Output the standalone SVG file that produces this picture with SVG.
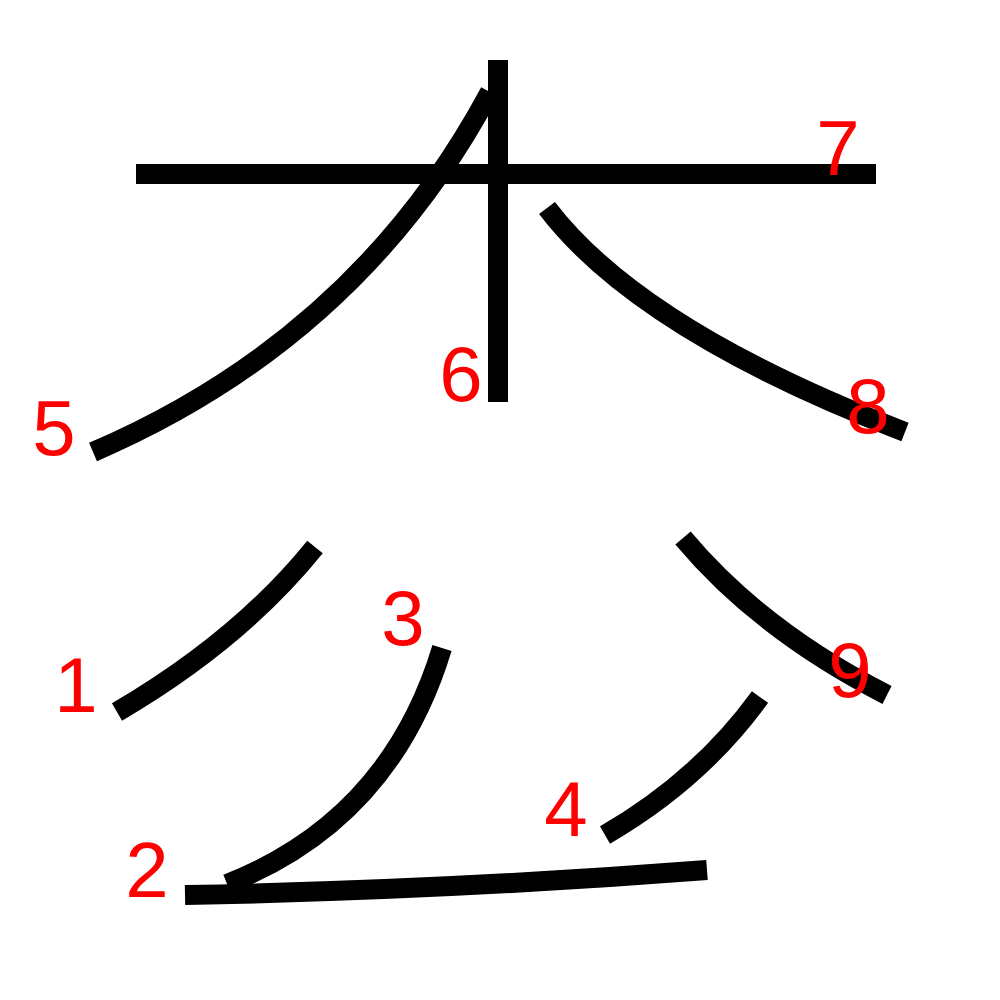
<svg xmlns="http://www.w3.org/2000/svg" width="1000" height="1000" viewBox="0 0 1000 1000">
<style>
.s{fill:none;stroke:#000;stroke-width:20;stroke-linecap:butt}
.n{fill:#f00;font-family:"Liberation Sans",Arial,sans-serif;font-size:78px;text-anchor:middle}
</style>
<rect width="1000" height="1000" fill="#fff"/>
<g id="strokes">
<path id="s1" class="s" d="M315,547 Q240,640 117,712"/>
<path id="s2" class="s" d="M185,895 Q450,890 707,870"/>
<path id="s3" class="s" d="M442,648 Q390,820 227,884"/>
<path id="s4" class="s" d="M760,697 Q700,780 605,835"/>
<path id="s5" class="s" d="M490,92 Q358,338 93,452"/>
<path id="s6" class="s" d="M498,60 L498,402"/>
<path id="s7" class="s" d="M136,174 L876,174"/>
<path id="s8" class="s" d="M547,208 Q640,330 905,432"/>
<path id="s9" class="s" d="M683,538 Q760,630 887,695"/>
</g>
<g id="labels">
<text class="n" x="76" y="712">1</text>
<text class="n" x="147" y="897">2</text>
<text class="n" x="403" y="645">3</text>
<text class="n" x="566" y="836">4</text>
<text class="n" x="54" y="455">5</text>
<text class="n" x="461" y="401">6</text>
<text class="n" x="838" y="175">7</text>
<text class="n" x="868" y="433">8</text>
<text class="n" x="850" y="697">9</text>
</g>
</svg>
